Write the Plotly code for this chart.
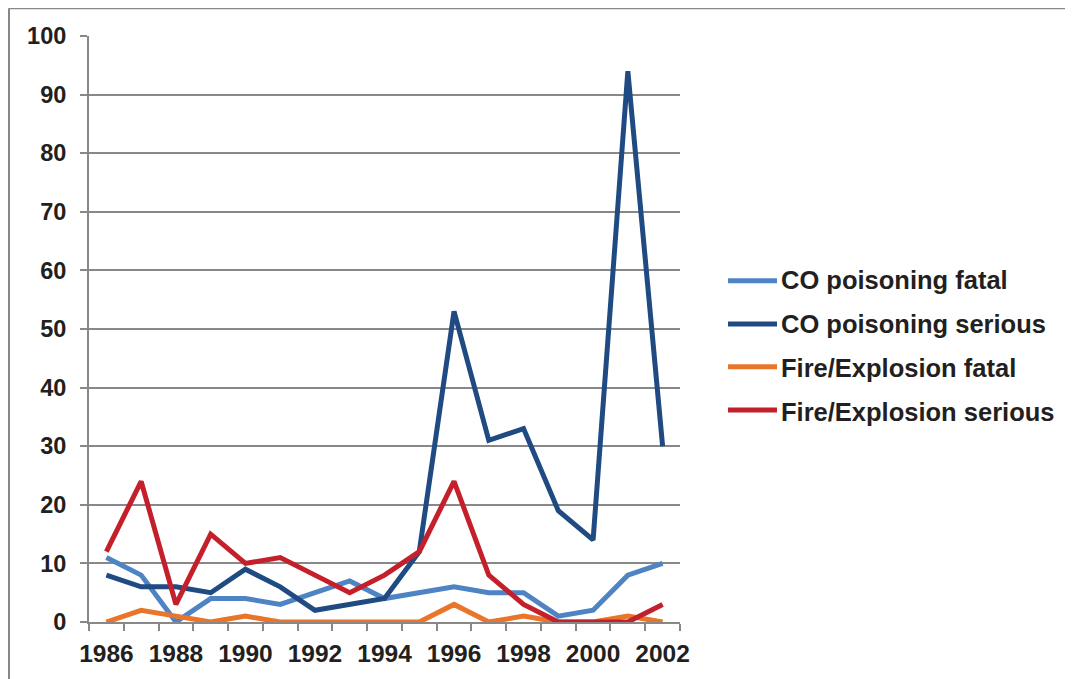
import plotly.graph_objects as go

years = list(range(1986, 2003))
co_fatal = [11, 8, 0, 4, 4, 3, 5, 7, 4, 5, 6, 5, 5, 1, 2, 8, 10]
co_serious = [8, 6, 6, 5, 9, 6, 2, 3, 4, 12, 53, 31, 33, 19, 14, 94, 30]
fire_fatal = [0, 2, 1, 0, 1, 0, 0, 0, 0, 0, 3, 0, 1, 0, 0, 1, 0]
fire_serious = [12, 24, 3, 15, 10, 11, 8, 5, 8, 12, 24, 8, 3, 0, 0, 0, 3]
x_labels = [str(y) for y in range(1986, 2003, 2)]
y_ticks = list(range(0, 101, 10))

series = [
    ("CO poisoning fatal", co_fatal, "#4f84c4"),
    ("CO poisoning serious", co_serious, "#1f4a82"),
    ("Fire/Explosion fatal", fire_fatal, "#e8752a"),
    ("Fire/Explosion serious", fire_serious, "#c4202b"),
]

fig = go.Figure()
for i, (name, vals, col) in enumerate(series):
    fig.add_trace(go.Scatter(
        x=years, y=vals, name=name, mode="lines",
        line=dict(color=col, width=5),
        legendgroup=f"g{i}", showlegend=False,
    ))
# legend entries (legend key lines drawn as longer shapes below)
for i, (name, vals, col) in enumerate(series):
    fig.add_trace(go.Scatter(
        x=[None], y=[None], name=name, mode="lines",
        line=dict(color="rgba(0,0,0,0)", width=0),
        legendgroup=f"g{i}", showlegend=True, hoverinfo="skip",
    ))

OFF = 8  # page body offset
W, H = 1065, 671
# plot area in viewport: x 89..680, y 36..625
L, T = 89 - OFF, 36 - OFF
R = W - (680 - OFF)
B = H - (625 - OFF)
pw, ph = W - L - R, H - T - B

def px(xv):
    return (xv - OFF - L) / pw

def py(yv):
    return (H - B - (yv - OFF)) / ph

fam = "Liberation Sans, Arial, sans-serif"
txt = "#231f20"
gray = "#888888"
yfont = dict(family=fam, size=23.5, color=txt, weight="bold")
xfont = dict(family=fam, size=24.5, color=txt, weight="bold")
lfont = dict(family=fam, size=25.5, color=txt, weight="bold")

legend_y = [282, 325.5, 368.5, 412]
shapes = [
    dict(type="line", xref="paper", yref="paper", x0=px(9), x1=px(1100), y0=py(8), y1=py(8),
         line=dict(color=gray, width=2)),
    dict(type="line", xref="paper", yref="paper", x0=px(9), x1=px(9), y0=py(8), y1=py(700),
         line=dict(color=gray, width=2)),
]
for (name, vals, col), ly in zip(series, legend_y):
    shapes.append(dict(type="line", xref="paper", yref="paper",
                       x0=px(728), x1=px(777), y0=py(ly), y1=py(ly),
                       line=dict(color=col, width=5)))

fig.update_layout(
    width=W, height=H,
    margin=dict(l=L, r=R, t=T, b=B),
    paper_bgcolor="white", plot_bgcolor="white",
    font=yfont,
    showlegend=True,
    legend=dict(
        x=px(741), y=py(347), xanchor="left", yanchor="middle",
        font=lfont,
        traceorder="grouped", tracegroupgap=8,
        bgcolor="rgba(0,0,0,0)",
    ),
    xaxis=dict(
        range=[1985.5, 2002.5],
        tickmode="array",
        tickvals=[int(s) for s in x_labels],
        ticktext=x_labels,
        ticks="",
        showgrid=False,
        showline=True, linecolor=gray, linewidth=2,
        zeroline=False,
        ticklabelstandoff=9,
        minor=dict(tickmode="linear", tick0=1985.5, dtick=1, ticks="outside",
                   ticklen=7, tickwidth=2, tickcolor=gray, showgrid=False),
        tickfont=xfont,
        fixedrange=True,
    ),
    yaxis=dict(
        range=[0, 100],
        tickmode="array", tickvals=y_ticks,
        ticks="outside", ticklen=7, tickwidth=2, tickcolor=gray,
        showgrid=True, gridcolor=gray, gridwidth=2,
        showline=True, linecolor=gray, linewidth=2,
        zeroline=False,
        ticklabelstandoff=9,
        tickfont=yfont,
        fixedrange=True,
    ),
    shapes=shapes,
)

fig.write_html("out.html")
